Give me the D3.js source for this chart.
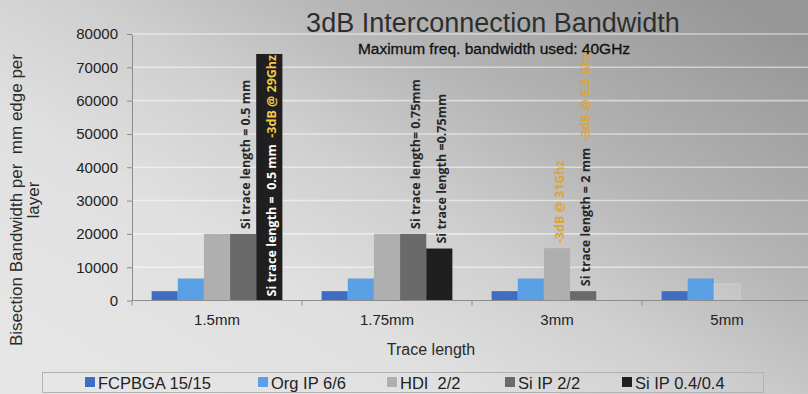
<!DOCTYPE html>
<html>
<head>
<meta charset="utf-8">
<script src="https://cdn.jsdelivr.net/npm/d3@7/dist/d3.min.js"></script>
<style>
  html, body { margin: 0; padding: 0; background: #d0d0d0; }
  svg { display: block; }
  text { white-space: pre; }
</style>
</head>
<body>
<svg id="chart" width="808" height="394"></svg>
<script>
// ---- data ----
const categories = ["1.5mm", "1.75mm", "3mm", "5mm"];
const seriesNames = ["FCPBGA 15/15", "Org IP 6/6", "HDI  2/2", "Si IP 2/2", "Si IP 0.4/0.4"];
const fcpbga = [2800, 2800, 2800, 2800];
const orgIP = [6600, 6600, 6600, 6600];
const hdi = [20000, 20000, 15700, 5000];
const siIP22 = [20000, 20000, 2800, 0];
const siIP04 = [74000, 15600, 0, 0];
const yTicks = [0, 10000, 20000, 30000, 40000, 50000, 60000, 70000, 80000];

const titleText = "3dB Interconnection Bandwidth";
const subtitleText = "Maximum freq. bandwidth used: 40GHz";
const xTitle = "Trace length";
const yTitleLines = ["Bisection Bandwidth per  mm edge per", "layer"];

// Notes written along bars: which bar, and the text runs (plain / highlighted)
const notes = [
  { category: "1.5mm", series: "Si IP 2/2", inside: false,
    runs: [{ text: "Si trace length = 0.5 mm", hl: false }] },
  { category: "1.5mm", series: "Si IP 0.4/0.4", inside: true,
    runs: [{ text: "Si trace length =  0.5 mm  ", hl: false }, { text: "-3dB @ 29Ghz", hl: true }] },
  { category: "1.75mm", series: "Si IP 2/2", inside: false,
    runs: [{ text: "Si trace length= 0.75mm", hl: false }] },
  { category: "1.75mm", series: "Si IP 0.4/0.4", inside: false,
    runs: [{ text: "Si trace length =0.75mm", hl: false }] },
  { category: "3mm", series: "HDI  2/2", inside: false,
    runs: [{ text: "-3dB @ 31Ghz", hl: true }] },
  { category: "3mm", series: "Si IP 2/2", inside: false,
    runs: [{ text: "Si trace length = 2 mm  ", hl: false }, { text: "-3dB @ 5.5 Ghz", hl: true }] }
];

// ---- styling ----
const seriesValues = [fcpbga, orgIP, hdi, siIP22, siIP04];
const colors = ["#3e6dc2", "#5aa0e4", "#afafaf", "#6a6a6a", "#1f1f1f"];
const fadedBar = { category: "5mm", series: "HDI  2/2" };
const sans = "'Liberation Sans', Arial, Helvetica, sans-serif";
const noteFont = "'Open Sans', 'Noto Sans', sans-serif";

const svg = d3.select("#chart");
const W = 808, H = 394;
const plot = { left: 132, right: 812, top: 34, bottom: 300.5 };

// background
const defs = svg.append("defs");
const bg = defs.append("linearGradient").attr("id", "bg")
  .attr("x1", "0").attr("y1", "0.9").attr("x2", "1").attr("y2", "0.1");
[[0, "#e6e6e6"], [0.3, "#e0e0e0"], [0.5, "#cfcfcf"], [0.7, "#b4b4b4"], [0.88, "#a2a2a2"], [1, "#969696"]]
  .forEach(([o, c]) => bg.append("stop").attr("offset", o).attr("stop-color", c));
svg.append("rect").attr("width", W).attr("height", H).attr("fill", "url(#bg)");

// scales
const x = d3.scaleBand().domain(categories).range([plot.left, plot.right]).padding(0);
const xSub = d3.scaleBand().domain(seriesNames).range([0, x.bandwidth()])
  .paddingInner(0).paddingOuter(0.75);
const y = d3.scaleLinear().domain([0, 80000]).range([plot.bottom, plot.top]);

// gridlines
svg.append("g").selectAll("line").data(yTicks.filter(d => d > 0)).join("line")
  .attr("x1", plot.left).attr("x2", W)
  .attr("y1", d => y(d)).attr("y2", d => y(d))
  .attr("stroke", "rgba(255,255,255,0.5)").attr("stroke-width", 1.6);

// bars
const rows = [];
seriesNames.forEach((s, si) => categories.forEach((c, ci) => {
  rows.push({ series: s, category: c, value: seriesValues[si][ci], color: colors[si] });
}));
const isFaded = d => d.category === fadedBar.category && d.series === fadedBar.series;
svg.append("g").selectAll("rect").data(rows.filter(d => d.value > 0)).join("rect")
  .attr("x", d => x(d.category) + xSub(d.series))
  .attr("width", xSub.bandwidth())
  .attr("y", d => y(d.value))
  .attr("height", d => y(0) - y(d.value))
  .attr("fill", d => isFaded(d) ? "rgba(255,255,255,0.14)" : d.color)
  .attr("stroke", d => isFaded(d) ? "rgba(255,255,255,0.22)" : "none");

// y axis
const yAxis = svg.append("g").attr("transform", `translate(${plot.left},0)`)
  .call(d3.axisLeft(y).tickValues(yTicks).tickFormat(d3.format("d")).tickSize(5).tickSizeOuter(0).tickPadding(9));
yAxis.selectAll("text").attr("font-family", sans).attr("font-size", 15).attr("fill", "#222");
yAxis.selectAll("line, path").attr("stroke", "#8c8c8c");

// x axis (labels centred on groups, ticks on group boundaries)
const xAxis = svg.append("g").attr("transform", `translate(0,${plot.bottom})`)
  .call(d3.axisBottom(x).tickSize(0).tickPadding(14));
xAxis.select(".domain").remove();
xAxis.selectAll("text").attr("font-family", sans).attr("font-size", 15).attr("fill", "#222");
svg.append("line").attr("x1", plot.left).attr("x2", W).attr("y1", plot.bottom).attr("y2", plot.bottom)
  .attr("stroke", "#8c8c8c");
svg.append("g").selectAll("line").data(categories).join("line")
  .attr("x1", d => x(d)).attr("x2", d => x(d))
  .attr("y1", plot.bottom).attr("y2", plot.bottom + 5)
  .attr("stroke", "#8c8c8c");

// notes along bars
notes.forEach(n => {
  const si = seriesNames.indexOf(n.series);
  const ci = categories.indexOf(n.category);
  const v = seriesValues[si][ci];
  const cx = x(n.category) + xSub(n.series) + xSub.bandwidth() / 2 + 2;
  const y0 = n.inside ? y(0) - 4 : y(v) - 5;
  const t = svg.append("text")
    .attr("transform", `translate(${cx},${y0}) rotate(-90)`)
    .attr("dy", "0.36em")
    .attr("font-family", noteFont).attr("font-weight", 700).attr("font-size", 12.5);
  n.runs.forEach(r => {
    t.append("tspan").text(r.text)
      .attr("fill", r.hl ? (n.inside ? "#f3c84a" : "#dca53a") : (n.inside ? "#ffffff" : "#262626"));
  });
});

// titles
svg.append("text").attr("x", 493).attr("y", 32).attr("text-anchor", "middle")
  .attr("font-family", sans).attr("font-size", 27).attr("fill", "#2e2e2e").text(titleText);
svg.append("text").attr("x", 494).attr("y", 54).attr("text-anchor", "middle")
  .attr("font-family", sans).attr("font-size", 15.5).attr("fill", "#111")
  .attr("stroke", "#111").attr("stroke-width", 0.3).text(subtitleText);
svg.append("text").attr("x", 431).attr("y", 355).attr("text-anchor", "middle")
  .attr("font-family", sans).attr("font-size", 16).attr("fill", "#2a2a2a").text(xTitle);
const yt = svg.append("text").attr("transform", "translate(22,200) rotate(-90)")
  .attr("text-anchor", "middle").attr("font-family", sans).attr("font-size", 17).attr("fill", "#2a2a2a");
yTitleLines.forEach((l, i) => yt.append("tspan").attr("x", 0).attr("dy", i === 0 ? 0 : 17).text(l));

// legend
const legend = svg.append("g");
legend.append("rect").attr("x", 42.5).attr("y", 372.5).attr("width", 721).attr("height", 20)
  .attr("fill", "none").attr("stroke", "#b2b2b2");
const legendX = [85, 258, 387, 505, 622];
seriesNames.forEach((s, i) => {
  const g = legend.append("g").attr("transform", `translate(${legendX[i]},0)`);
  g.append("rect").attr("x", 0).attr("y", 377).attr("width", 10).attr("height", 10).attr("fill", colors[i]);
  g.append("text").attr("x", 13).attr("y", 388.5).attr("font-family", sans).attr("font-size", 16.5)
    .attr("fill", "#222").text(s);
});
</script>
</body>
</html>
